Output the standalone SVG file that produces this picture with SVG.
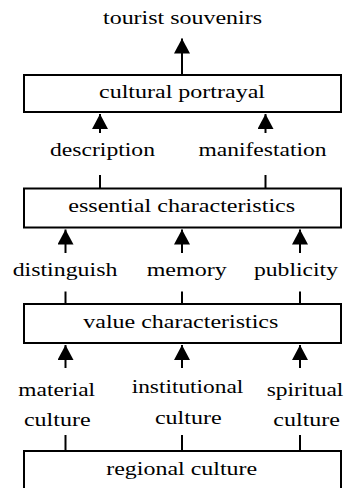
<svg xmlns="http://www.w3.org/2000/svg" width="347" height="488" viewBox="0 0 347 488">
<defs>
<marker id="ah" viewBox="0 0 16 16" refX="15" refY="8" markerWidth="16" markerHeight="16" markerUnits="userSpaceOnUse" orient="auto">
<path d="M0,0 L15,8 L0,16 Z" fill="#000"/>
</marker>
<style>
.box{fill:#fff;stroke:#000;stroke-width:2}
.t{font-family:"Liberation Serif","Times New Roman",serif;font-size:19px;fill:#000;text-anchor:middle}
.ln{stroke:#000;stroke-width:2;fill:none}
.ar{stroke:#000;stroke-width:2;fill:none;marker-end:url(#ah)}
</style>
</defs>
<rect width="347" height="488" fill="#fff"/>
<g id="connectors">
<line class="ar" x1="182" y1="75" x2="182" y2="38.5"/>
<line class="ar" x1="100" y1="133" x2="100" y2="114"/>
<line class="ar" x1="265.5" y1="133" x2="265.5" y2="114"/>
<line class="ln" x1="100" y1="175" x2="100" y2="188.5"/>
<line class="ln" x1="265.5" y1="175" x2="265.5" y2="188.5"/>
<line class="ar" x1="65.5" y1="253" x2="65.5" y2="229.5"/>
<line class="ar" x1="182" y1="253" x2="182" y2="229.5"/>
<line class="ar" x1="300" y1="253" x2="300" y2="229.5"/>
<line class="ln" x1="65.5" y1="291.5" x2="65.5" y2="304"/>
<line class="ln" x1="182" y1="291.5" x2="182" y2="304"/>
<line class="ln" x1="300" y1="291.5" x2="300" y2="304"/>
<line class="ar" x1="65.5" y1="368" x2="65.5" y2="345"/>
<line class="ar" x1="182" y1="368" x2="182" y2="345"/>
<line class="ar" x1="300" y1="368" x2="300" y2="345"/>
<line class="ln" x1="65.5" y1="435" x2="65.5" y2="451"/>
<line class="ln" x1="182" y1="435" x2="182" y2="451"/>
<line class="ln" x1="300" y1="435" x2="300" y2="451"/>
</g>
<g id="tourist-souvenirs"><text class="t" x="182.5" y="23.5" textLength="159" lengthAdjust="spacingAndGlyphs">tourist souvenirs</text></g>
<g id="cultural-portrayal"><rect class="box" x="24" y="75" width="317" height="37"/><text class="t" x="182" y="97.5" textLength="166" lengthAdjust="spacingAndGlyphs">cultural portrayal</text></g>
<g id="description"><text class="t" x="102.5" y="156" textLength="105" lengthAdjust="spacingAndGlyphs">description</text></g>
<g id="manifestation"><text class="t" x="262.5" y="156" textLength="128" lengthAdjust="spacingAndGlyphs">manifestation</text></g>
<g id="essential-characteristics"><rect class="box" x="24" y="188.5" width="317" height="39"/><text class="t" x="181.7" y="211.5" textLength="227" lengthAdjust="spacingAndGlyphs">essential characteristics</text></g>
<g id="distinguish"><text class="t" x="65" y="275.5" textLength="104.7" lengthAdjust="spacingAndGlyphs">distinguish</text></g>
<g id="memory"><text class="t" x="186.7" y="275.5" textLength="80" lengthAdjust="spacingAndGlyphs">memory</text></g>
<g id="publicity"><text class="t" x="296" y="275.5" textLength="84" lengthAdjust="spacingAndGlyphs">publicity</text></g>
<g id="value-characteristics"><rect class="box" x="24" y="304" width="317" height="39"/><text class="t" x="180.8" y="328" textLength="195" lengthAdjust="spacingAndGlyphs">value characteristics</text></g>
<g id="material-culture"><text class="t" x="56.7" y="396" textLength="76.7" lengthAdjust="spacingAndGlyphs">material</text><text class="t" x="57.3" y="425.5" textLength="66.7" lengthAdjust="spacingAndGlyphs">culture</text></g>
<g id="institutional-culture"><text class="t" x="187.5" y="392.5" textLength="111.7" lengthAdjust="spacingAndGlyphs">institutional</text><text class="t" x="188.3" y="424" textLength="66.7" lengthAdjust="spacingAndGlyphs">culture</text></g>
<g id="spiritual-culture"><text class="t" x="305" y="396" textLength="76.7" lengthAdjust="spacingAndGlyphs">spiritual</text><text class="t" x="306.7" y="426" textLength="66.7" lengthAdjust="spacingAndGlyphs">culture</text></g>
<g id="regional-culture"><rect class="box" x="24" y="451" width="317" height="50"/><text class="t" x="181.7" y="475" textLength="151" lengthAdjust="spacingAndGlyphs">regional culture</text></g>
</svg>
